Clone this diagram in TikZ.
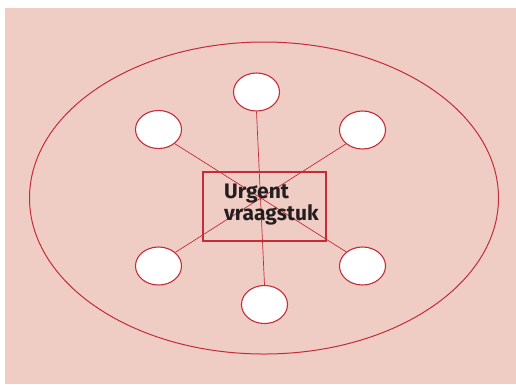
\documentclass[tikz,border=0pt]{standalone}
\usepackage{fontspec}
\setmainfont{Fira Sans}
\usetikzlibrary{shapes.geometric}
\definecolor{bg}{RGB}{240,205,196}
\definecolor{rd}{RGB}{195,45,55}
\definecolor{tx}{RGB}{35,31,32}
\begin{document}
\begin{tikzpicture}[x=1pt,y=-1pt,
  bubble/.style={ellipse,draw=rd,fill=white,line width=1.1pt,minimum width=46pt,minimum height=38pt,inner sep=0pt},
  spoke/.style={draw=rd,line width=0.7pt},
  ring/.style={ellipse,draw=rd,line width=1pt,minimum width=469pt,minimum height=312pt,inner sep=0pt},
  core/.style={draw=rd,line width=1.3pt,minimum width=123pt,minimum height=69pt,inner sep=0pt},
  caption/.style={text=tx,font=\fontsize{21}{22}\selectfont\bfseries,align=left,inner sep=0pt}]
\useasboundingbox (0,0) rectangle (516,384);
\fill[bg] (5,8) rectangle (516,384);
\node[ring] (outer) at (264,198) {};
\node[bubble] (t) at (256.5,92) {};
\node[bubble] (ul) at (158.5,129.5) {};
\node[bubble] (ur) at (362.5,130) {};
\node[bubble] (ll) at (158.5,266) {};
\node[bubble] (lr) at (362.5,266) {};
\node[bubble] (b) at (264.5,304.5) {};
\node[core] (box) at (264.5,206.5) {};
\draw[spoke] (t.south) -- (b.north);
\draw[spoke] (ul.-41) -- (lr.139);
\draw[spoke] (ur.220) -- (ll.39);
\node[caption,anchor=north west] (txt) at (224,184) {Urgent\\vraagstuk};
\end{tikzpicture}
\end{document}
